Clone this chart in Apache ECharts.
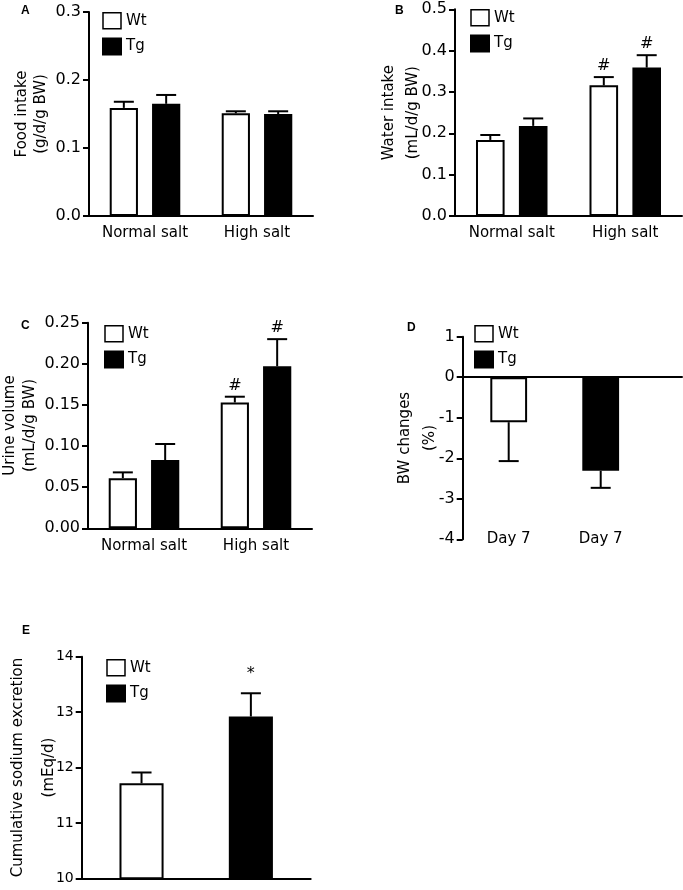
<!DOCTYPE html>
<html><head><meta charset="utf-8">
<script src="https://cdn.jsdelivr.net/npm/echarts@6/dist/echarts.min.js"></script>
<style>html,body{margin:0;padding:0;background:#fff}#c{width:683px;height:890px}</style>
</head><body><div id="c"></div>
<script>
// ---------- data ----------
const saltCats = ['Normal salt', 'High salt'];
const foodWt = [0.159, 0.151];
const foodWtSem = [0.009, 0.003];
const foodTg = [0.165, 0.150];
const foodTgSem = [0.013, 0.004];

const waterWt = [0.184, 0.316];
const waterWtSem = [0.012, 0.020];
const waterTg = [0.218, 0.359];
const waterTgSem = [0.018, 0.030];
const waterWtMarks = ['', '#'];
const waterTgMarks = ['', '#'];

const urineWt = [0.061, 0.153];
const urineWtSem = [0.007, 0.007];
const urineTg = [0.083, 0.197];
const urineTgSem = [0.0195, 0.033];
const urineWtMarks = ['', '#'];
const urineTgMarks = ['', '#'];

const bwCats = ['Day 7', 'Day 7'];
const bwWt = [-1.11, null];
const bwWtSem = [0.96, null];
const bwTg = [null, -2.31];
const bwTgSem = [null, 0.42];

const naCats = [''];
const naWt = [11.715];
const naWtSem = [0.195];
const naTg = [12.92];
const naTgSem = [0.42];
const naTgMarks = ['*'];

const seriesNames = ['Wt', 'Tg'];
const panelLetters = ['A', 'B', 'C', 'D', 'E'];

// ---------- styling helpers ----------
const FONT = 'DejaVu Sans';
const BLACK = '#000';
const wtStyle = { color: '#fff', borderColor: BLACK, borderWidth: 2 };
const tgStyle = { color: BLACK, borderColor: BLACK, borderWidth: 2 };

function yAxis(gi, min, max, interval, dec, name, nameGap, lh, fs) {
  return {
    gridIndex: gi, type: 'value', min: min, max: max, interval: interval,
    name: name, nameLocation: 'middle', nameGap: nameGap, nameMoveOverlap: false,
    nameTextStyle: { fontFamily: FONT, fontSize: 15, color: BLACK, lineHeight: lh },
    axisLine: { show: true, lineStyle: { color: BLACK, width: 2 } },
    axisTick: { show: true, length: 6, lineStyle: { color: BLACK, width: 2 } },
    axisLabel: { fontFamily: FONT, fontSize: fs, color: BLACK, margin: 8,
      formatter: v => dec === 0 ? String(Math.round(v)) : v.toFixed(dec) },
    splitLine: { show: false }
  };
}
function xAxis(gi, cats, opts) {
  return Object.assign({
    gridIndex: gi, type: 'category', data: cats,
    axisLine: { show: true, onZero: false, lineStyle: { color: BLACK, width: 2 } },
    axisTick: { show: false },
    axisLabel: { fontFamily: FONT, fontSize: 15, color: BLACK, margin: 10, interval: 0 },
    splitLine: { show: false }
  }, opts || {});
}
function bar(gi, name, vals, style, extra) {
  return Object.assign({
    type: 'bar', name: name, xAxisIndex: gi, yAxisIndex: gi,
    data: vals.map(v => v == null ? '-' : v),
    itemStyle: style, silent: true, animation: false
  }, extra || {});
}
function errBars(gi, vals, sems, marks, layout, idx, markGap) {
  const data = [];
  vals.forEach((v, i) => { if (v != null) data.push([i, v, sems[i]]); });
  return {
    type: 'custom', xAxisIndex: gi, yAxisIndex: gi, z: 5, silent: true, animation: false,
    data: data,
    renderItem: function (params, api) {
      const ci = api.value(0), v = api.value(1), s = api.value(2);
      const band = api.size([1, 0])[0];
      const avail = band * (1 - layout.cg);
      const w = avail / (layout.n + (layout.n - 1) * layout.g);
      const off = -avail / 2 + w / 2 + idx * w * (1 + layout.g);
      const p0 = api.coord([ci, v]);
      const p1 = api.coord([ci, v < 0 ? v - s : v + s]);
      const x = p0[0] + off;
      const ls = { stroke: BLACK, lineWidth: 2 };
      const ch = [
        { type: 'line', shape: { x1: x, y1: p0[1], x2: x, y2: p1[1] }, style: ls },
        { type: 'line', shape: { x1: x - 10, y1: p1[1], x2: x + 10, y2: p1[1] }, style: ls }
      ];
      const m = marks ? marks[ci] : '';
      if (m) {
        ch.push({ type: 'text', x: x, y: p1[1] - markGap,
          style: { text: m, fill: BLACK, font: '16px "' + FONT + '"', align: 'center', verticalAlign: 'bottom' } });
      }
      return { type: 'group', children: ch };
    }
  };
}
function legend(left, top) {
  return {
    left: left, top: top, orient: 'vertical', padding: 0,
    itemWidth: 18, itemHeight: 16, itemGap: 8, selectedMode: false,
    textStyle: { fontFamily: FONT, fontSize: 15, color: BLACK },
    data: [
      { name: seriesNames[0], icon: 'rect', itemStyle: { color: '#fff', borderColor: BLACK, borderWidth: 1.5 } },
      { name: seriesNames[1], icon: 'rect', itemStyle: { color: BLACK } }
    ]
  };
}
function letter(t, left, top) {
  return { text: t, left: left, top: top, padding: 0,
    textStyle: { fontFamily: 'Liberation Sans', fontSize: 12, fontWeight: 'bold', color: BLACK } };
}
function grid(left, top, width, height) {
  return { left: left, top: top, width: width, height: height, containLabel: false, outerBoundsMode: 'none' };
}

const L2 = { cg: 0.37, g: 0.5, n: 2 };     // paired bars per category
const LD = { cg: 0.6, g: 0, n: 1 };        // single bar per category
const LE = { cg: 0.33, g: 1.48, n: 2 };    // both bars in one category

const option = {
  backgroundColor: '#fff',
  animation: false,
  title: [
    letter(panelLetters[0], 21, 5),
    letter(panelLetters[1], 395, 5),
    letter(panelLetters[2], 21, 320),
    letter(panelLetters[3], 407, 322),
    letter(panelLetters[4], 22, 625)
  ],
  legend: [legend(102, 12), legend(470, 9), legend(104, 325), legend(474, 325), legend(106, 659)],
  grid: [
    grid(89, 12, 224, 204),
    grid(455, 9.3, 227, 206.7),
    grid(88, 322.7, 224, 205.6),
    grid(462.7, 336.7, 184, 202.6),
    grid(81.7, 656.7, 229, 221.6),
    grid(462.7, 336.7, 219.3, 202.6)
  ],
  xAxis: [
    xAxis(0, saltCats),
    xAxis(1, saltCats),
    xAxis(2, saltCats),
    xAxis(3, bwCats, { axisLine: { show: false, onZero: false }, axisLabel: { fontFamily: FONT, fontSize: 15, color: BLACK, margin: -8, interval: 0 } }),
    xAxis(4, naCats, { axisLabel: { show: false } }),
    { gridIndex: 5, type: 'value', min: 0, max: 1, axisLine: { show: true, onZero: true, lineStyle: { color: BLACK, width: 2 } },
      axisTick: { show: false }, axisLabel: { show: false }, splitLine: { show: false } }
  ],
  yAxis: [
    yAxis(0, 0, 0.3, 0.1, 1, 'Food intake\n(g/d/g BW)', 38, 19, 16),
    yAxis(1, 0, 0.5, 0.1, 1, 'Water intake\n(mL/d/g BW)', 30, 24, 16),
    yAxis(2, 0, 0.25, 0.05, 2, 'Urine volume\n(mL/d/g BW)', 48, 20, 16),
    yAxis(3, -4, 1, 1, 0, 'BW changes\n(%)', 20, 25, 16),
    yAxis(4, 10, 14, 1, 0, 'Cumulative sodium excretion\n(mEq/d)', 17, 31, 14),
    { gridIndex: 5, type: 'value', min: -4, max: 1, show: false }
  ],
  series: [
    bar(0, 'Wt', foodWt, wtStyle, { barGap: '50%', barCategoryGap: '37%' }),
    bar(0, 'Tg', foodTg, tgStyle, { barGap: '50%', barCategoryGap: '37%' }),
    errBars(0, foodWt, foodWtSem, null, L2, 0, 3),
    errBars(0, foodTg, foodTgSem, null, L2, 1, 3),

    bar(1, 'Wt', waterWt, wtStyle, { barGap: '50%', barCategoryGap: '37%' }),
    bar(1, 'Tg', waterTg, tgStyle, { barGap: '50%', barCategoryGap: '37%' }),
    errBars(1, waterWt, waterWtSem, waterWtMarks, L2, 0, 3),
    errBars(1, waterTg, waterTgSem, waterTgMarks, L2, 1, 3),

    bar(2, 'Wt', urineWt, wtStyle, { barGap: '50%', barCategoryGap: '37%' }),
    bar(2, 'Tg', urineTg, tgStyle, { barGap: '50%', barCategoryGap: '37%' }),
    errBars(2, urineWt, urineWtSem, urineWtMarks, L2, 0, 3),
    errBars(2, urineTg, urineTgSem, urineTgMarks, L2, 1, 3),

    bar(3, 'Wt', bwWt, wtStyle, { barGap: '-100%', barCategoryGap: '60%' }),
    bar(3, 'Tg', bwTg, tgStyle, { barGap: '-100%', barCategoryGap: '60%' }),
    errBars(3, bwWt, bwWtSem, null, LD, 0, 3),
    errBars(3, bwTg, bwTgSem, null, LD, 0, 3),

    bar(4, 'Wt', naWt, wtStyle, { barGap: '148%', barCategoryGap: '33%' }),
    bar(4, 'Tg', naTg, tgStyle, { barGap: '148%', barCategoryGap: '33%' }),
    errBars(4, naWt, naWtSem, null, LE, 0, 3),
    errBars(4, naTg, naTgSem, naTgMarks, LE, 1, 11)
  ]
};

const chart = echarts.init(document.getElementById('c'), null, { renderer: 'canvas' });
chart.setOption(option);
</script>
</body></html>
